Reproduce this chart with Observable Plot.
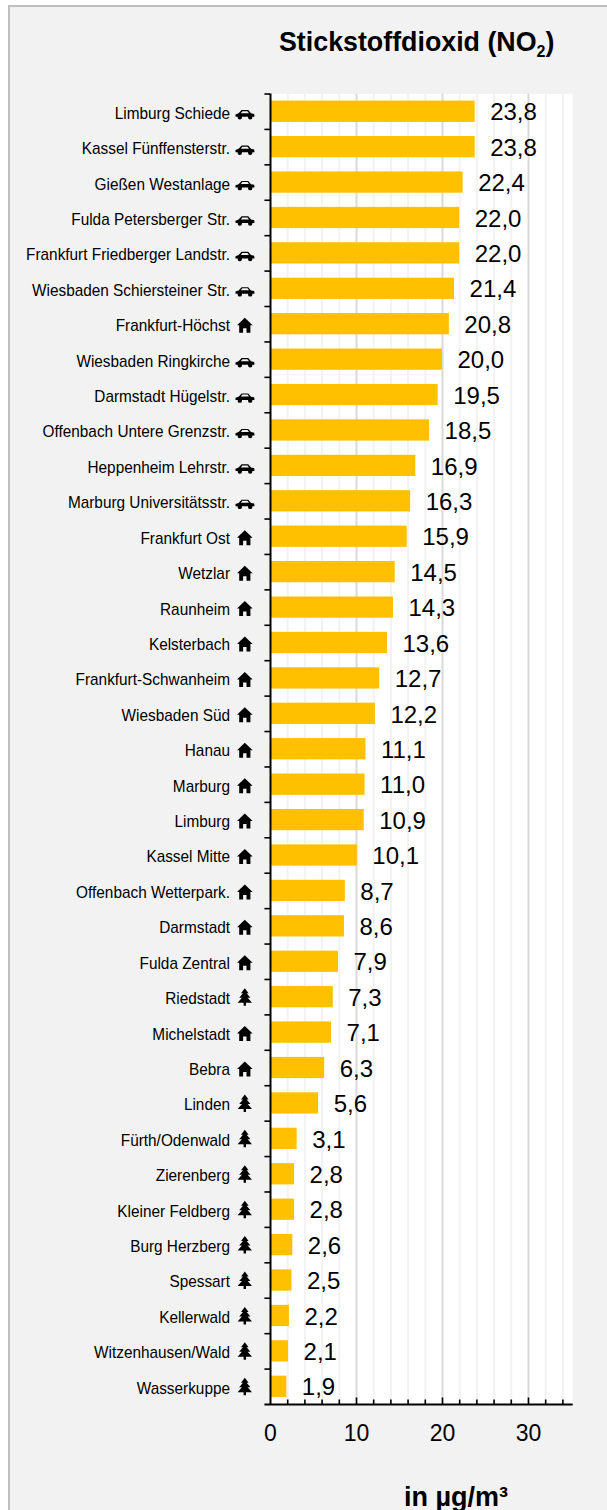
<!DOCTYPE html>
<html><head><meta charset="utf-8">
<script src="https://cdn.jsdelivr.net/npm/d3@7"></script>
<script src="https://cdn.jsdelivr.net/npm/@observablehq/plot@0.6"></script>
<style>
html,body{margin:0;padding:0;width:607px;height:1510px;overflow:hidden;background:#fff}
#panel{position:absolute;left:8px;top:5px;width:700px;height:1600px;background:#f2f2f2;border:2px solid #bfbfbf;box-sizing:border-box}
#chart{position:absolute;left:0;top:0}
.t{position:absolute;font-family:"Liberation Sans",Arial,sans-serif;font-weight:bold;color:#000;white-space:nowrap}
#title{left:279px;top:27px;font-size:26.8px;line-height:30px}
#title sub{font-size:16px;line-height:0;vertical-align:-6px}
#unit{left:404px;top:1483px;font-size:27px;line-height:28px}
</style></head><body>
<div id="panel"></div><div id="chart"></div>
<div class="t" id="title">Stickstoffdioxid (NO<sub>2</sub>)</div>
<div class="t" id="unit">in µg/m³</div>
<script>
const stations=["Limburg Schiede","Kassel Fünffensterstr.","Gießen Westanlage","Fulda Petersberger Str.","Frankfurt Friedberger Landstr.","Wiesbaden Schiersteiner Str.","Frankfurt-Höchst","Wiesbaden Ringkirche","Darmstadt Hügelstr.","Offenbach Untere Grenzstr.","Heppenheim Lehrstr.","Marburg Universitätsstr.","Frankfurt Ost","Wetzlar","Raunheim","Kelsterbach","Frankfurt-Schwanheim","Wiesbaden Süd","Hanau","Marburg","Limburg","Kassel Mitte","Offenbach Wetterpark.","Darmstadt","Fulda Zentral","Riedstadt","Michelstadt","Bebra","Linden","Fürth/Odenwald","Zierenberg","Kleiner Feldberg","Burg Herzberg","Spessart","Kellerwald","Witzenhausen/Wald","Wasserkuppe"];
const values=[23.8,23.8,22.4,22.0,22.0,21.4,20.8,20.0,19.5,18.5,16.9,16.3,15.9,14.5,14.3,13.6,12.7,12.2,11.1,11.0,10.9,10.1,8.7,8.6,7.9,7.3,7.1,6.3,5.6,3.1,2.8,2.8,2.6,2.5,2.2,2.1,1.9];
const kinds=["car","car","car","car","car","car","home","car","car","car","car","car","home","home","home","home","home","home","home","home","home","home","home","home","home","tree","home","home","tree","tree","tree","tree","tree","tree","tree","tree","tree"];
const majorGrid=[10,20,30];
const minorGrid=[2,4,6,8,12,14,16,18,22,24,26,28,32,34];
const xTickLabels=[0,10,20,30];
const rows=stations.map((s,i)=>({s,v:values[i],k:kinds[i]}));

const unit=size=>Math.sqrt(size/Math.PI)/9;
const poly=(c,u,P)=>{c.moveTo(P[0][0]*u,P[0][1]*u);for(const q of P.slice(1))c.lineTo(q[0]*u,q[1]*u);c.closePath();};
const symbols={
 car:{draw(c,size){const u=unit(size);
  poly(c,u,[[-9.5,5],[-9.5,2.8],[-6.4,1.6],[-3.4,-1.6],[3.2,-1.6],[6,1.6],[9.2,2.3],[9.5,5]]);
  poly(c,u,[[-4.2,1.5],[4,1.5],[2.5,-0.5],[-2.6,-0.5]]);
  for(const cx of [-5.2,5.2]){c.moveTo((cx+2.2)*u,5.6*u);c.arc(cx*u,5.6*u,2.2*u,0,2*Math.PI);c.closePath();}
 }},
 home:{draw(c,size){const u=unit(size);
  poly(c,u,[[0,-6.5],[7.8,1],[5.6,1],[5.6,8.5],[1.7,8.5],[1.7,4],[-1.7,4],[-1.7,8.5],[-5.6,8.5],[-5.6,1],[-7.8,1]]);
 }},
 tree:{draw(c,size){const u=unit(size);
  poly(c,u,[[0,-9],[3.8,-4],[1.8,-4],[5.6,0.5],[2.8,0.5],[7.2,5.5],[1.2,5.5],[1.2,8.5],[-1.2,8.5],[-1.2,5.5],[-7.2,5.5],[-2.8,0.5],[-5.6,0.5],[-1.8,-4],[-3.8,-4]]);
 }}
};
const font='"Liberation Sans",Arial,sans-serif';
const plot=Plot.plot({
 width:607,height:1510,marginLeft:270,marginRight:35,marginTop:93.5,marginBottom:106,
 style:{background:"transparent",fontFamily:font},
 x:{domain:[0,35.2],range:[270,572.7]},
 y:{domain:stations,paddingInner:0.4,paddingOuter:0.2,round:false},
 marks:[
  Plot.frame({fill:"white",stroke:null}),
  Plot.ruleX(minorGrid,{stroke:"#f2f2f2",strokeWidth:2}),
  Plot.ruleX(majorGrid,{stroke:"#d9d9d9",strokeWidth:2}),
  Plot.barX(rows,{x:"v",y:"s",fill:"#ffc000"}),
  Plot.text(rows,{x:"v",y:"s",text:d=>d.v.toFixed(1).replace(".",","),textAnchor:"start",dx:15,dy:1,fontSize:24,fill:"#000"}),
  Plot.axisY({tickSize:0,tickPadding:40.5,dy:1.5,label:null,fontSize:17,fill:"#000"}),
  Plot.dot(rows.filter(d=>d.k==="car"),{x:0,y:"s",dx:-25.5,r:9,fill:"#000",symbol:symbols.car}),
  Plot.dot(rows.filter(d=>d.k==="home"),{x:0,y:"s",dx:-25.7,r:9,fill:"#000",symbol:symbols.home}),
  Plot.dot(rows.filter(d=>d.k==="tree"),{x:0,y:"s",dx:-25.7,r:9,fill:"#000",symbol:symbols.tree}),
  Plot.ruleX([0],{stroke:"#000",strokeWidth:2}),
  Plot.ruleY(stations,{x1:-0.65,x2:0,stroke:"#000",strokeWidth:1.6,dy:-35.43/2}),
  Plot.ruleY(stations.slice(-1),{x1:-0.65,x2:35.2,stroke:"#000",strokeWidth:2,dy:35.43/2}),
  Plot.axisX({ticks:xTickLabels,tickSize:0,tickPadding:20,label:null,fontSize:23,fill:"#000",tickFormat:d=>d}),
  Plot.tickX(minorGrid,{x:d=>d,stroke:"#000",strokeWidth:1.6,insetTop:1306}),
  Plot.tickX(majorGrid,{x:d=>d,stroke:"#000",strokeWidth:1.6,insetTop:1304})
 ]
});
document.getElementById("chart").append(plot);
// The reference's station labels are a horizontally condensed Arial
plot.querySelectorAll("text").forEach(t=>{
  if(stations.includes(t.textContent)){
    t.setAttribute("textLength",t.getComputedTextLength()*0.903);
    t.setAttribute("lengthAdjust","spacingAndGlyphs");
  }
});
</script>
</body></html>
